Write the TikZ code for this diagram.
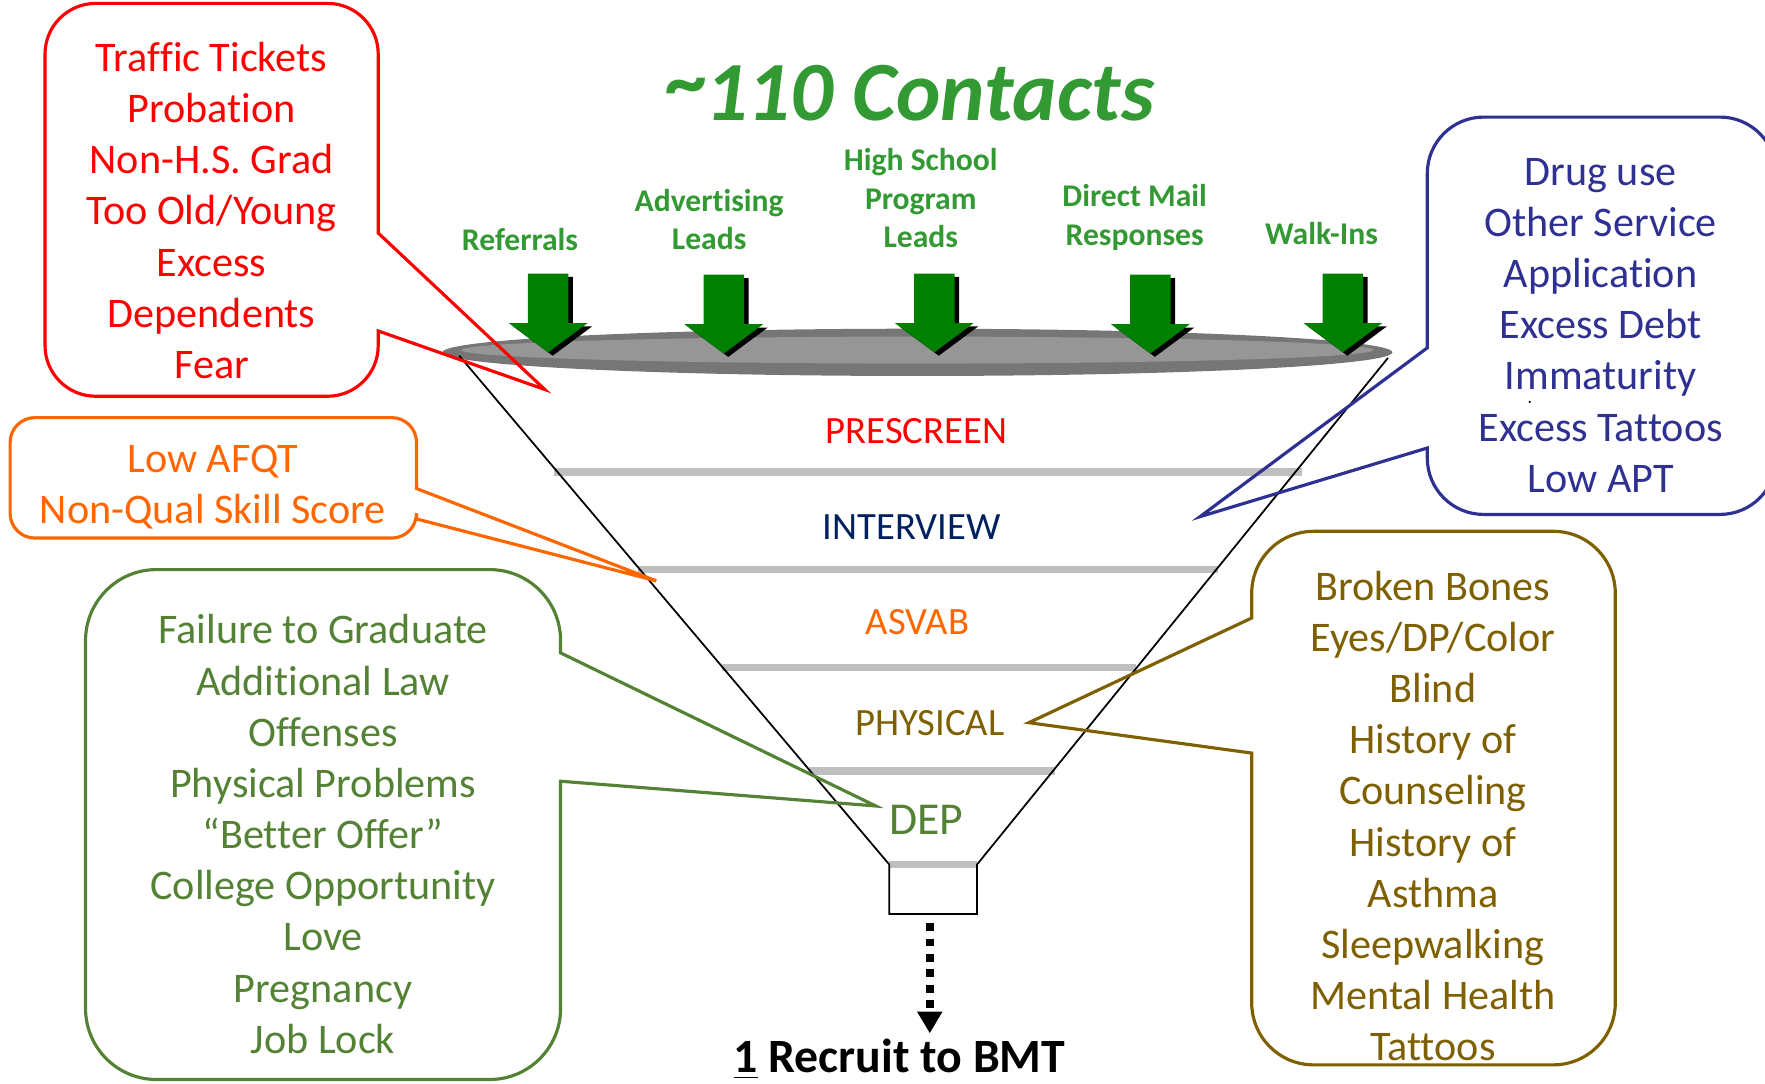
\documentclass[tikz,border=0pt]{standalone}
\usepackage{fontspec}
\setmainfont{Carlito}[Ligatures={NoCommon}]
\usetikzlibrary{arrows.meta}
\definecolor{titlegreen}{RGB}{51,153,51}
\definecolor{arrowgreen}{RGB}{0,128,0}
\definecolor{cred}{RGB}{255,0,0}
\definecolor{corange}{RGB}{255,102,0}
\definecolor{cnavy}{RGB}{0,32,96}
\definecolor{cblue}{RGB}{46,49,146}
\definecolor{colive}{RGB}{127,96,0}
\definecolor{cgreen}{RGB}{84,130,53}
\definecolor{bargray}{RGB}{191,191,191}
\definecolor{discdark}{RGB}{118,118,118}
\definecolor{disclight}{RGB}{150,150,150}
% callout with tail on the right side
\newcommand\calloutR[9]{%
\draw[calloutline] ({#1+#5},#2) -- ({#3-#5},#2)
 .. controls ({#3-0.4477*#5},#2) and (#3,{#2+0.4477*#5}) .. (#3,{#2+#5})
 -- (#3,#6) -- (#7,#8) -- (#3,#9) -- (#3,{#4-#5})
 .. controls (#3,{#4-0.4477*#5}) and ({#3-0.4477*#5},#4) .. ({#3-#5},#4)
 -- ({#1+#5},#4)
 .. controls ({#1+0.4477*#5},#4) and (#1,{#4-0.4477*#5}) .. (#1,{#4-#5})
 -- (#1,{#2+#5})
 .. controls (#1,{#2+0.4477*#5}) and ({#1+0.4477*#5},#2) .. ({#1+#5},#2) -- cycle;}
% callout with tail on the left side
\newcommand\calloutL[9]{%
\draw[calloutline] ({#1+#5},#2) -- ({#3-#5},#2)
 .. controls ({#3-0.4477*#5},#2) and (#3,{#2+0.4477*#5}) .. (#3,{#2+#5})
 -- (#3,{#4-#5})
 .. controls (#3,{#4-0.4477*#5}) and ({#3-0.4477*#5},#4) .. ({#3-#5},#4)
 -- ({#1+#5},#4)
 .. controls ({#1+0.4477*#5},#4) and (#1,{#4-0.4477*#5}) .. (#1,{#4-#5})
 -- (#1,#9) -- (#7,#8) -- (#1,#6) -- (#1,{#2+#5})
 .. controls (#1,{#2+0.4477*#5}) and ({#1+0.4477*#5},#2) .. ({#1+#5},#2) -- cycle;}
\tikzset{
  callouttext/.style={align=center, inner sep=0pt, font=\fontsize{12}{14.57}\selectfont},
  srclabel/.style={align=center, inner sep=0pt, text=titlegreen, font=\bfseries\fontsize{9}{10.9}\selectfont},
  stagelabel/.style={inner sep=0pt, font=\fontsize{11}{13}\selectfont},
  graybar/.style={draw=bargray, line width=2.2pt},
  funnelline/.style={draw=black, line width=0.5pt},
  calloutline/.style={line width=0.9pt, line join=miter},
  downarrow/.pic={
    \fill[black] (-14,3) -- (22,3) -- (22,47) -- (39,47) -- (4,73) -- (-31,47) -- (-14,47) -- cycle;
    \fill[arrowgreen] (-18,0) -- (18,0) -- (18,44) -- (35,44) -- (0,70) -- (-35,44) -- (-18,44) -- cycle;
  }
}
\begin{document}
\begin{tikzpicture}[x=0.011257cm, y=-0.011257cm]
\useasboundingbox (0,0) rectangle (1568,963);
\clip (0,0) rectangle (1568,963);

% title
\node[anchor=base, text=titlegreen, inner sep=0pt, font=\bfseries\itshape\fontsize{24}{29}\selectfont] (title) at (809,107) {\raisebox{0.13em}{\textasciitilde}\kern-0.05em 110 Contacts};

% source labels
\node[srclabel] (referrals) at (462,213) {Referrals};
\node[srclabel] (advert) at (630,195) {Advertising\\Leads};
\node[srclabel] (highschool) at (818,176) {High School\\Program\\Leads};
\node[srclabel] (directmail) at (1008,193) {Direct Mail\\Responses};
\node[srclabel] (walkins) at (1174,207) {Walk-Ins};

% disc
\fill[discdark] (815,313) ellipse [x radius=422, y radius=21];
\fill[disclight] (815,311) ellipse [x radius=405, y radius=12];

% arrows
\pic at (487,243) {downarrow};
\pic at (643,244) {downarrow};
\pic at (830,243) {downarrow};
\pic at (1022,244) {downarrow};
\pic at (1193,243) {downarrow};

% stage bars
\draw[graybar] (492,419) -- (1157,419);
\draw[graybar] (567,506) -- (1082,506);
\draw[graybar] (641,593) -- (1009,593);
\draw[graybar] (719,685) -- (937,685);
\draw[graybar] (790,768) -- (868,768);

% funnel
\coordinate (fl) at (408,316);
\coordinate (fr) at (1233,318);
\coordinate (bl) at (790,768);
\coordinate (br) at (868,768);
\coordinate (boxbl) at (790,812);
\coordinate (boxbr) at (868,812);
\draw[funnelline] (fl) -- (bl) -- (boxbl) -- (boxbr) -- (br) -- (fr);

% stage labels
\node[stagelabel, text=cred] (prescreen) at (814,383) {PRESCREEN};
\node[stagelabel, text=cnavy] (interview) at (810,468) {INTERVIEW};
\node[stagelabel, text=corange] (asvab) at (815,553) {ASVAB};
\node[stagelabel, text=colive] (physical) at (826,642) {PHYSICAL};
\node[inner sep=0pt, text=cgreen, font=\fontsize{13}{15}\selectfont] (dep) at (823,728) {DEP};

% output
\coordinate (boxbot) at (826,820);
\coordinate (outtip) at (826,918);
\draw[line width=2.2pt, dash pattern=on 2.2pt off 2.2pt, -{Triangle[width=6.8pt,length=6.2pt]}] (boxbot) -- (outtip);
\node[anchor=base, inner sep=0pt, font=\bfseries\fontsize{13.6}{16}\selectfont] (recruit) at (799,953) {\underline{1} Recruit to BMT};

% callouts
\begin{scope}[color=cred]
\calloutR{40}{3}{336}{352}{45}{207}{484}{346}{294}
\end{scope}
\node[callouttext, text=cred] (redtext) at (188,187) {Traffic Tickets\\Probation\\Non-H.S. Grad\\Too Old/Young\\Excess\\Dependents\\Fear};

\begin{scope}[color=corange]
\calloutR{9}{371}{370}{478}{22}{434}{583}{516}{461}
\end{scope}
\node[callouttext, text=corange] (orangetext) at (189,433) {Low AFQT\\Non-Qual Skill Score};

\begin{scope}[color=cgreen]
\calloutR{76}{506}{498}{959}{63}{580}{778}{716}{694}
\end{scope}
\node[callouttext, text=cgreen] (greentext) at (287,741) {Failure to Graduate\\Additional Law\\Offenses\\Physical Problems\\“Better Offer”\\College Opportunity\\Love\\Pregnancy\\Job Lock};

\begin{scope}[color=cblue]
\calloutL{1268}{104}{1578}{457}{50}{309}{1066}{459}{398}
\end{scope}
\node[callouttext, text=cblue] (bluetext) at (1422,289) {Drug use\\Other Service\\Application\\Excess Debt\\Immaturity\\Excess Tattoos\\Low APT};
\fill[black] (1359,357) circle [radius=1.2];

\begin{scope}[color=colive]
\calloutL{1112}{472}{1435}{946}{55}{549}{914}{642}{669}
\end{scope}
\node[callouttext, text=colive] (olivetext) at (1273,725) {Broken Bones\\Eyes/DP/Color\\Blind\\History of\\Counseling\\History of\\Asthma\\Sleepwalking\\Mental Health\\Tattoos};
\end{tikzpicture}
\end{document}
